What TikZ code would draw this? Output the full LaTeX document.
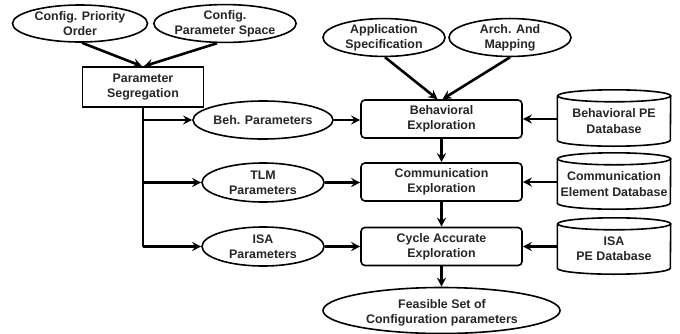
\documentclass[tikz,border=0pt]{standalone}
\usepackage{fontspec}
\setmainfont{Liberation Sans}
\usetikzlibrary{shapes.geometric,arrows.meta,calc}
\begin{document}
\begin{tikzpicture}[x=1pt,y=-1pt,
  every node/.style={font=\bfseries\fontsize{12.4}{15.2}\selectfont, align=center, inner sep=0pt, text=black!85},
  ell/.style={ellipse, draw, line width=1.6pt, fill=white},
  sqbox/.style={rectangle, draw, line width=1.6pt, fill=white},
  rbox/.style={rectangle, rounded corners=4pt, draw, line width=1.6pt, fill=white},
  dbnode/.style={rectangle, minimum width=113pt, minimum height=56pt},
  conn/.style={line width=2.2pt, -{Stealth[length=9pt,width=9pt,inset=3pt]}},
  thick conn/.style={line width=2.6pt, -{Stealth[length=9pt,width=9pt,inset=3pt]}},
  plain/.style={line width=2.2pt}
]
\useasboundingbox (0,0) rectangle (680,333);

% top-left inputs
\node[ell, minimum width=135pt, minimum height=37pt] (cpo) at (80,23.5) {Config. Priority\\Order};
\node[ell, minimum width=136pt, minimum height=37pt] (cps) at (225,23.5) {Config.\\Parameter Space};
\node[sqbox, minimum width=121pt, minimum height=40pt] (seg) at (143,87) {Parameter\\Segregation};

% parameter ellipses
\node[ell, minimum width=122pt, minimum height=38pt] (beh) at (263,120) {Beh. Parameters};
\node[ell, minimum width=122pt, minimum height=39pt] (tlm) at (263,182.5) {TLM\\Parameters};
\node[ell, minimum width=122pt, minimum height=39pt] (isa) at (263,246.5) {ISA\\Parameters};

% top-right inputs
\node[ell, minimum width=122pt, minimum height=32pt] (app) at (384,37.5) {Application\\Specification};
\node[ell, minimum width=122pt, minimum height=32pt] (arch) at (510,37.5) {Arch. And\\Mapping};

% exploration boxes
\node[rbox, minimum width=161pt, minimum height=38pt] (bex) at (441.5,119) {Behavioral\\Exploration};
\node[rbox, minimum width=161pt, minimum height=38pt] (cex) at (441.5,182) {Communication\\Exploration};
\node[rbox, minimum width=161pt, minimum height=38pt] (cax) at (441.5,246.5) {Cycle Accurate\\Exploration};

% result
\node[ell, minimum width=237pt, minimum height=46pt] (fea) at (441.5,310.5) {};
\node (featext) at (442,313) {Feasible Set of\\Configuration parameters};

% databases
\node[dbnode] (bdb) at (614,118) {};
\node[dbnode] (cdb) at (614,181) {};
\node[dbnode] (idb) at (614,246) {};
\foreach \n in {bdb,cdb,idb}{
  \draw[line width=1.6pt, fill=white]
    ([yshift=-6pt]\n.north west) -- ([yshift=6pt]\n.south west)
    arc[start angle=180,end angle=360,x radius=56.5pt,y radius=6pt]
    -- ([yshift=-6pt]\n.north east)
    arc[start angle=0,end angle=180,x radius=56.5pt,y radius=6pt]
    arc[start angle=180,end angle=360,x radius=56.5pt,y radius=6pt];
}
\node at ([yshift=-3pt]bdb.center) {Behavioral PE\\Database};
\node at ([yshift=-3pt]cdb.center) {Communication\\Element Database};
\node at ([yshift=-3pt]idb.center) {ISA\\PE Database};

% connectors
\draw[thick conn] ([xshift=2pt]cpo.south) -- ([xshift=-1pt]seg.north);
\draw[thick conn] ([xshift=-8pt]cps.south) -- ([xshift=1pt]seg.north);
\draw[thick conn] ([xshift=1pt]app.south) -- ([xshift=-4pt]bex.north);
\draw[thick conn] (arch.south) -- ([xshift=1pt]bex.north);

\draw[plain] (seg.south) -- (seg.south |- isa.west);
\draw[conn] (seg.south |- beh.west) -- (beh.west);
\draw[conn] (seg.south |- tlm.west) -- (tlm.west);
\draw[conn] (seg.south |- isa.west) -- (isa.west);

\draw[conn] (beh.east) -- (beh.east -| bex.west);
\draw[conn] (tlm.east) -- (tlm.east -| cex.west);
\draw[conn] (isa.east) -- (isa.east -| cax.west);

\draw[conn] (bdb.west |- bex.east) -- (bex.east);
\draw[conn] (cdb.west |- cex.east) -- (cex.east);
\draw[conn] (idb.west |- cax.east) -- (cax.east);

\draw[conn] (bex.south) -- (cex.north);
\draw[conn] (cex.south) -- (cax.north);
\draw[conn] (cax.south) -- (fea.north);
\end{tikzpicture}
\end{document}
